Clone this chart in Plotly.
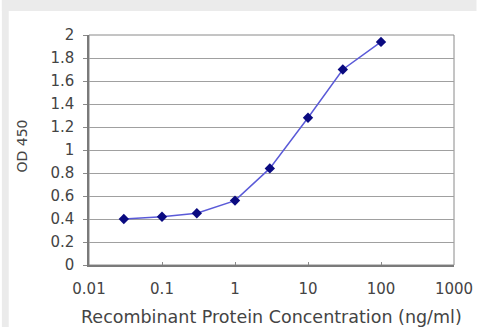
import plotly.graph_objects as go

concentration = [0.03, 0.1, 0.3, 1, 3, 10, 30, 100]
od450 = [0.40, 0.42, 0.45, 0.56, 0.84, 1.28, 1.70, 1.94]
x_ticks = [0.01, 0.1, 1, 10, 100, 1000]
x_tick_labels = ["0.01", "0.1", "1", "10", "100", "1000"]
y_ticks = [0, 0.2, 0.4, 0.6, 0.8, 1, 1.2, 1.4, 1.6, 1.8, 2]
y_tick_labels = ["0", "0.2", "0.4", "0.6", "0.8", "1", "1.2", "1.4", "1.6", "1.8", "2"]

W, H = 485, 327
L, R, T, B = 89, 23, 35, 62
pw, ph = W - L - R, H - T - B

def px(xp):
    return (xp - L) / pw

def py(yp):
    return (H - B - yp) / ph

FAM = "DejaVu Sans, Verdana, sans-serif"
TXT = "#444444"
tick_font = dict(family=FAM, size=15, color=TXT)

fig = go.Figure()
fig.add_trace(go.Scatter(
    x=concentration, y=od450, mode="lines+markers",
    line=dict(color="#5a5ad8", width=1.5),
    marker=dict(symbol="diamond", size=8, color="#0a0a80"),
    showlegend=False,
))

fig.update_layout(
    width=W, height=H,
    margin=dict(l=L, r=R, t=T, b=B, pad=0),
    paper_bgcolor="white",
    plot_bgcolor="white",
    font=tick_font,
    shapes=[
        dict(type="rect", xref="paper", yref="paper",
             x0=px(0), x1=px(7), y0=py(H), y1=py(0),
             fillcolor="#ebebeb", line=dict(width=0), layer="below"),
        dict(type="rect", xref="paper", yref="paper",
             x0=px(0), x1=px(W), y0=py(11), y1=py(0),
             fillcolor="#ebebeb", line=dict(width=0), layer="below"),
        dict(type="rect", xref="paper", yref="paper",
             x0=0, x1=1, y0=0, y1=1,
             line=dict(color="#8a8a8a", width=1), layer="below"),
    ],
    annotations=[
        dict(text="OD 450", xref="paper", yref="paper",
             x=px(21), y=py(146), xanchor="center", yanchor="middle",
             showarrow=False, textangle=-90,
             font=dict(family=FAM, size=14, color=TXT)),
        dict(text="Recombinant Protein Concentration (ng/ml)", xref="paper", yref="paper",
             x=px(275), y=py(317), xanchor="center", yanchor="middle",
             showarrow=False,
             font=dict(family=FAM, size=17.5, color=TXT)),
    ],
)

fig.update_xaxes(
    type="log", range=[-2, 3],
    tickvals=x_ticks, ticktext=x_tick_labels,
    ticks="inside", ticklen=3, tickcolor="#8a8a8a",
    showgrid=False, zeroline=False,
    showline=True, linecolor="#7a7a7a", linewidth=1.5,
    tickfont=tick_font, ticklabelstandoff=9,
)
fig.update_yaxes(
    range=[0, 2],
    tickvals=y_ticks, ticktext=y_tick_labels,
    ticks="outside", ticklen=4, tickcolor="#8a8a8a",
    showgrid=True, gridcolor="#a0a0a0", gridwidth=1,
    zeroline=False,
    showline=True, linecolor="#7a7a7a", linewidth=1.5,
    tickfont=tick_font, ticklabelstandoff=6,
)

fig.write_html(
    "out.html",
    config={"displayModeBar": False},
    post_script="document.body.style.margin='0';document.body.style.padding='0';",
)
